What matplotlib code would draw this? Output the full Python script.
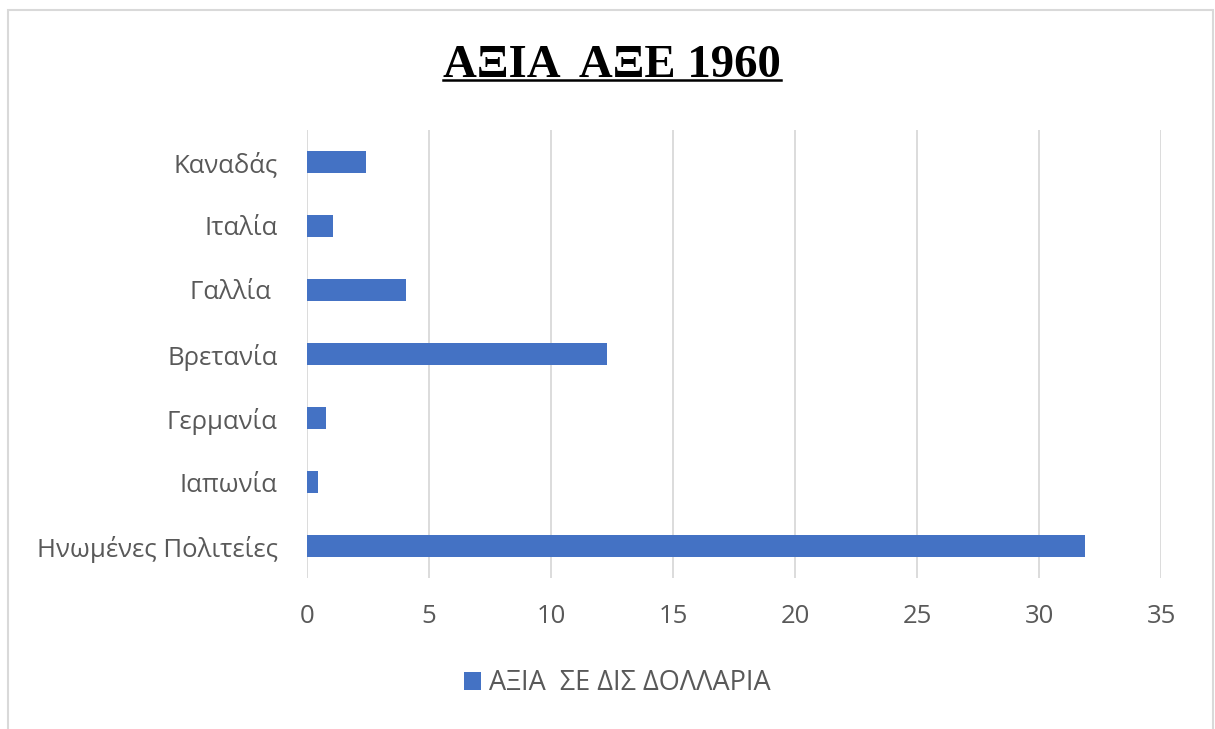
import matplotlib.pyplot as plt
from matplotlib.patches import Rectangle
from matplotlib.lines import Line2D

# data
countries = ['Ηνωμένες Πολιτείες', 'Ιαπωνία', 'Γερμανία', 'Βρετανία', 'Γαλλία ', 'Ιταλία', 'Καναδάς']
values = [31.9, 0.45, 0.77, 12.3, 4.07, 1.07, 2.42]
xticks = [0, 5, 10, 15, 20, 25, 30, 35]
series_name = 'ΑΞΙΑ  ΣΕ ΔΙΣ ΔΟΛΛΑΡΙΑ'
title = 'ΑΞΙΑ  ΑΞΕ 1960'

text_color = '#595959'
bar_color = '#4472c4'
grid_color = '#d9d9d9'
plt.rcParams['font.family'] = ['Open Sans', 'DejaVu Sans']

fig = plt.figure(figsize=(12.15, 7.29), dpi=100)
ax = fig.add_axes([0.2527, 0.2071, 0.7029, 0.6146])

ax.barh(range(len(countries)), values, height=0.345, color=bar_color, label=series_name, zorder=3)
ax.set_yticks(range(len(countries)))
ax.set_yticklabels(countries, fontsize=18.5, color=text_color)
ax.set_ylim(-0.5, len(countries) - 0.5)
ax.set_xlim(0, 35)
ax.set_xticks(xticks)
ax.set_xticklabels([str(t) for t in xticks], fontsize=18.5, color=text_color)
ax.tick_params(axis='both', length=0)
ax.tick_params(axis='y', pad=21)
ax.tick_params(axis='x', pad=19)
ax.grid(axis='x', color=grid_color, linewidth=1.3, zorder=0)
for s in ax.spines.values():
    s.set_visible(False)

# title with underline
t = fig.text(0.504, 0.91, title, ha='center', va='center', fontsize=33.7,
             fontweight='bold', family='Liberation Serif', color='black')
fig.canvas.draw()
bb = t.get_window_extent().transformed(fig.transFigure.inverted())
fig.add_artist(Line2D([bb.x0, bb.x1], [bb.y0 + 0.009, bb.y0 + 0.009], color='black', linewidth=1.8,
                      transform=fig.transFigure))

fig.legend(loc='center', bbox_to_anchor=(0.508, 0.063), frameon=False, fontsize=19.5,
           handlelength=0.65, handleheight=0.65, handletextpad=0.3, labelcolor=text_color)

# chart border
fig.add_artist(Rectangle((0.0066, -0.02), 0.992, 1.006, transform=fig.transFigure,
                         fill=False, edgecolor=grid_color, linewidth=1.5))

fig.savefig('out.png', dpi=100)
